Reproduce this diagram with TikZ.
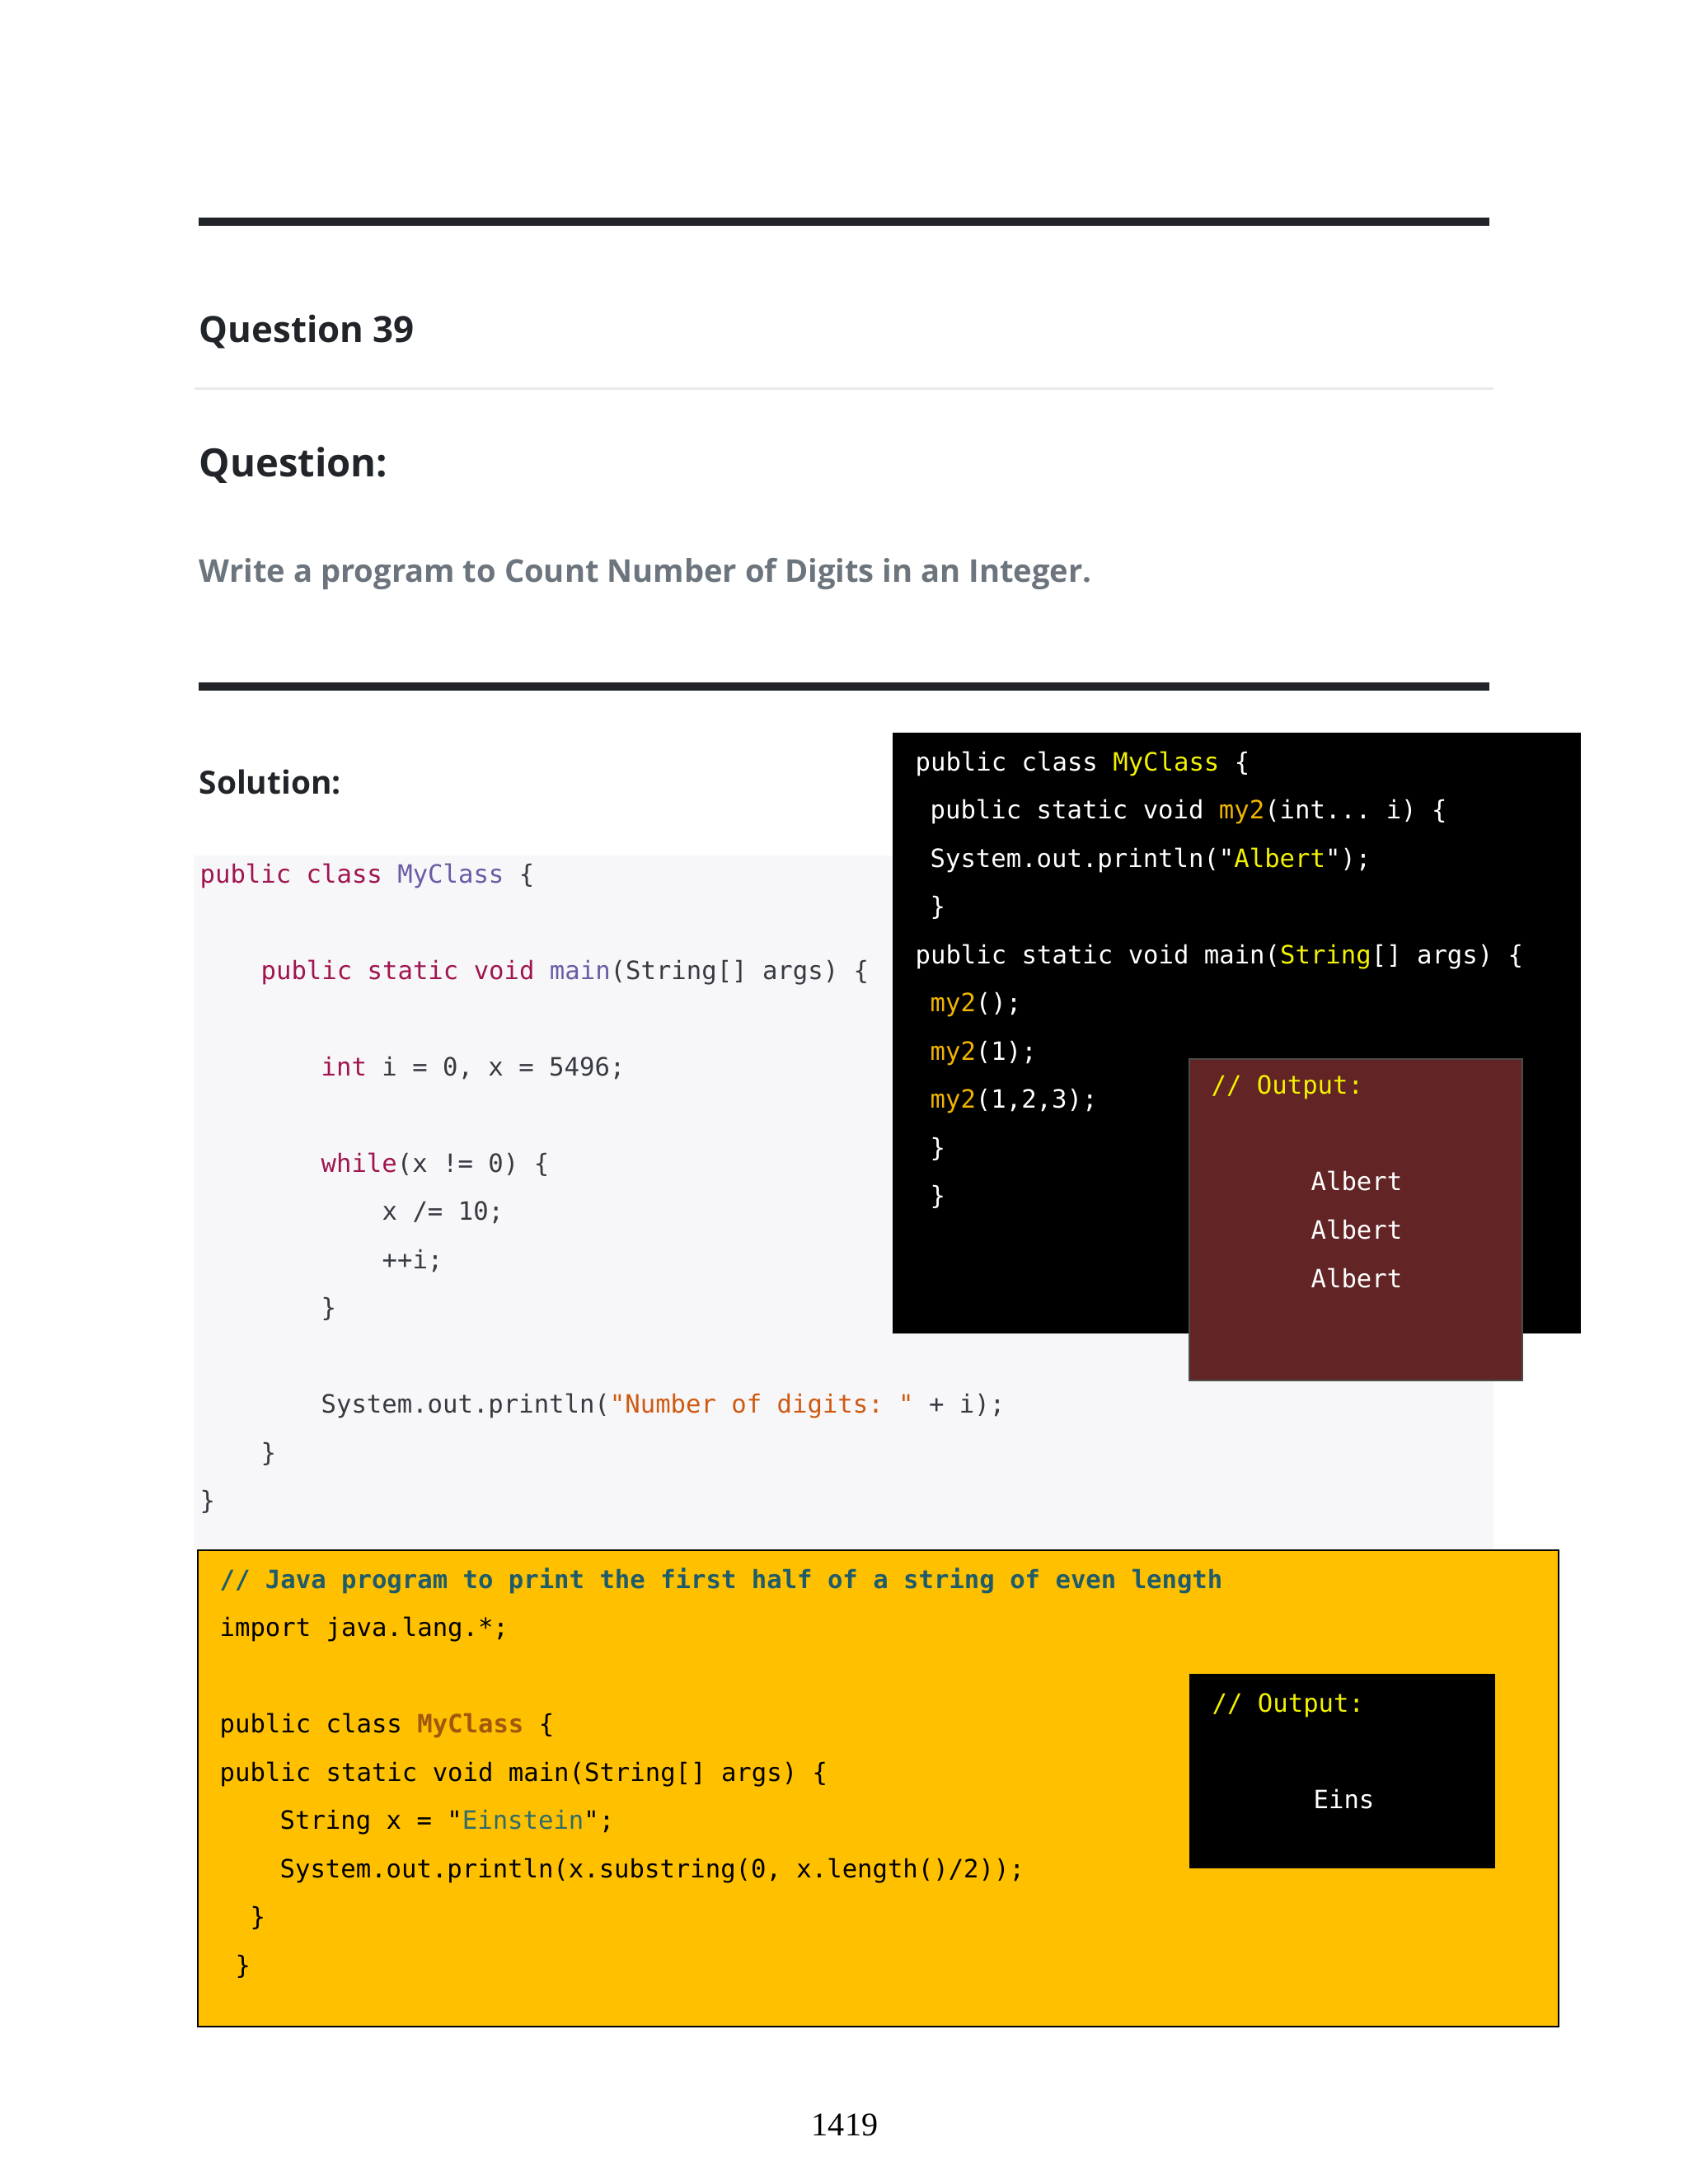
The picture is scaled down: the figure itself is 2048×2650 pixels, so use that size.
\documentclass[tikz,border=0pt]{standalone}
\usepackage{fontspec}
\setmainfont{Open Sans}
\setmonofont{DejaVu Sans Mono}
\newfontfamily\numfont{Liberation Serif}

\definecolor{ink}{HTML}{212529}
\definecolor{muted}{HTML}{6C757D}
\definecolor{rulegray}{HTML}{EBEBEB}
\definecolor{codebg}{HTML}{F7F7F9}
\definecolor{codeink}{HTML}{383A42}
\definecolor{kwred}{HTML}{A0154F}
\definecolor{clspurple}{HTML}{6B5BA5}
\definecolor{strorange}{HTML}{CF5A12}
\definecolor{hiyellow}{HTML}{F2F200}
\definecolor{higold}{HTML}{F0B400}
\definecolor{outmaroon}{HTML}{622424}
\definecolor{amber}{HTML}{FFC000}
\definecolor{cmteal}{HTML}{1F5C6B}
\definecolor{sttel}{HTML}{2F6B6B}
\definecolor{clsbrown}{HTML}{A0580F}

\newcommand\kwd[1]{\textcolor{kwred}{#1}}
\newcommand\clsn[1]{\textcolor{clspurple}{#1}}
\newcommand\strg[1]{\textcolor{strorange}{#1}}
\newcommand\hiy[1]{\textcolor{hiyellow}{#1}}
\newcommand\hig[1]{\textcolor{higold}{#1}}
\newcommand\brn[1]{\textcolor{clsbrown}{\bfseries #1}}
\newcommand\tlt[1]{\textcolor{sttel}{#1}}

\tikzset{
	heading/.style = {anchor = base west, inner sep = 0pt, text = ink},
	code/.style = {anchor = base west, inner sep = 0pt,
		font = \ttfamily\fontsize{9.15}{11}\selectfont}
}

\begin{document}
\begin{tikzpicture}[x = 0.2988pt, y = -0.2988pt]

	% Page size (letter, in pixels of the scan)
	
	\useasboundingbox (0, 0) rectangle (2048, 2650);
	\def\pitch{58.5}
	
	% Rules and headings
	
	\fill [ink] (241, 264) rectangle (1807, 274);
	\fill [rulegray] (236, 470) rectangle (1812, 473);
	\fill [ink] (241, 828) rectangle (1807, 838);
	
	\node [heading, font = \bfseries\fontsize{13.1}{15}\selectfont] (qnum) at (241, 415) {Question 39};
	\node [heading, font = \bfseries\fontsize{14.1}{17}\selectfont] (qhead) at (241, 578) {Question:};
	\node [heading, text = muted, font = \bfseries\fontsize{11.4}{14}\selectfont] (qtext) at (241, 706)
		{Write a program to Count Number of Digits in an Integer.};
	\node [heading, font = \bfseries\fontsize{11.6}{14}\selectfont] (sol) at (241, 963) {Solution:};
	
	% Solution code
	
	\fill [codebg] (235, 1038) rectangle (1812, 1881);
	
	\begin{scope}[text = codeink]
	
		\node [code] (s0) at (242, 1071) {\kwd{public} \kwd{class} \clsn{MyClass} \{};
		\node [code] (s2) at (316, 1071 + 2*\pitch) {\kwd{public} \kwd{static} \kwd{void} \clsn{main}(String[] args) \{};
		\node [code] (s4) at (389, 1071 + 4*\pitch) {\kwd{int} i = 0, x = 5496;};
		\node [code] (s6) at (389, 1071 + 6*\pitch) {\kwd{while}(x != 0) \{};
		\node [code] (s7) at (463, 1071 + 7*\pitch) {x /= 10;};
		\node [code] (s8) at (463, 1071 + 8*\pitch) {++i;};
		\node [code] (s9) at (389, 1071 + 9*\pitch) {\}};
		\node [code] (s11) at (389, 1071 + 11*\pitch) {System.out.println(\strg{"Number of digits: "} + i);};
		\node [code] (s12) at (316, 1071 + 12*\pitch) {\}};
		\node [code] (s13) at (242, 1071 + 13*\pitch) {\}};
		
	\end{scope}
	
	% Varargs example, black panel
	
	\fill [black] (1083, 889) rectangle (1918, 1618);
	
	\begin{scope}[text = white]
	
		\node [code] (v0) at (1110, 935) {public class \hiy{MyClass} \{};
		\node [code] (v1) at (1128, 935 + \pitch) {public static void \hig{my2}(int... i) \{};
		\node [code] (v2) at (1128, 935 + 2*\pitch) {System.out.println("\hiy{Albert}");};
		\node [code] (v3) at (1128, 935 + 3*\pitch) {\}};
		\node [code] (v4) at (1110, 935 + 4*\pitch) {public static void main(\hiy{String}[] args) \{};
		\node [code] (v5) at (1128, 935 + 5*\pitch) {\hig{my2}();};
		\node [code] (v6) at (1128, 935 + 6*\pitch) {\hig{my2}(1);};
		\node [code] (v7) at (1128, 935 + 7*\pitch) {\hig{my2}(1,2,3);};
		\node [code] (v8) at (1128, 935 + 8*\pitch) {\}};
		\node [code] (v9) at (1128, 935 + 9*\pitch) {\}};
		
	\end{scope}
	
	% Its output
	
	\filldraw [fill = outmaroon, draw = black!70, line width = 0.6pt] (1443, 1285) rectangle (1847, 1675);
	\node [code, text = hiyellow] (vout) at (1469, 1327) {// Output:};
	\foreach \k in {0, 1, 2}
		\node [code, text = white] (alb\k) at (1590, 1444 + \k*59) {Albert};
	
	% Substring example, amber panel
	
	\filldraw [fill = amber, draw = black, line width = 0.8pt] (240, 1881) rectangle (1891, 2459);
	
	\begin{scope}[text = black]
	
		\node [code, text = cmteal, font = \ttfamily\bfseries\fontsize{9.15}{11}\selectfont] (h0) at (266, 1927)
			{// Java program to print the first half of a string of even length};
		\node [code] (h1) at (266, 1927 + \pitch) {import java.lang.*;};
		\node [code] (h3) at (266, 1927 + 3*\pitch) {public class \brn{MyClass} \{};
		\node [code] (h4) at (266, 1927 + 4*\pitch) {public static void main(String[] args) \{};
		\node [code] (h5) at (339, 1927 + 5*\pitch) {String x = "\tlt{Einstein}";};
		\node [code] (h6) at (339, 1927 + 6*\pitch) {System.out.println(x.substring(0, x.length()/2));};
		\node [code] (h7) at (303, 1927 + 7*\pitch) {\}};
		\node [code] (h8) at (285, 1927 + 8*\pitch) {\}};
		
	\end{scope}
	
	% Its output
	
	\fill [black] (1443, 2031) rectangle (1814, 2267);
	\node [code, text = hiyellow] (hout) at (1470, 2077) {// Output:};
	\node [code, text = white] (eins) at (1593, 2194) {Eins};
	
	% Page number
	
	\node [anchor = base, inner sep = 0pt, font = \numfont\fontsize{12}{14}\selectfont] (pg) at (1025, 2591) {1419};

\end{tikzpicture}
\end{document}
